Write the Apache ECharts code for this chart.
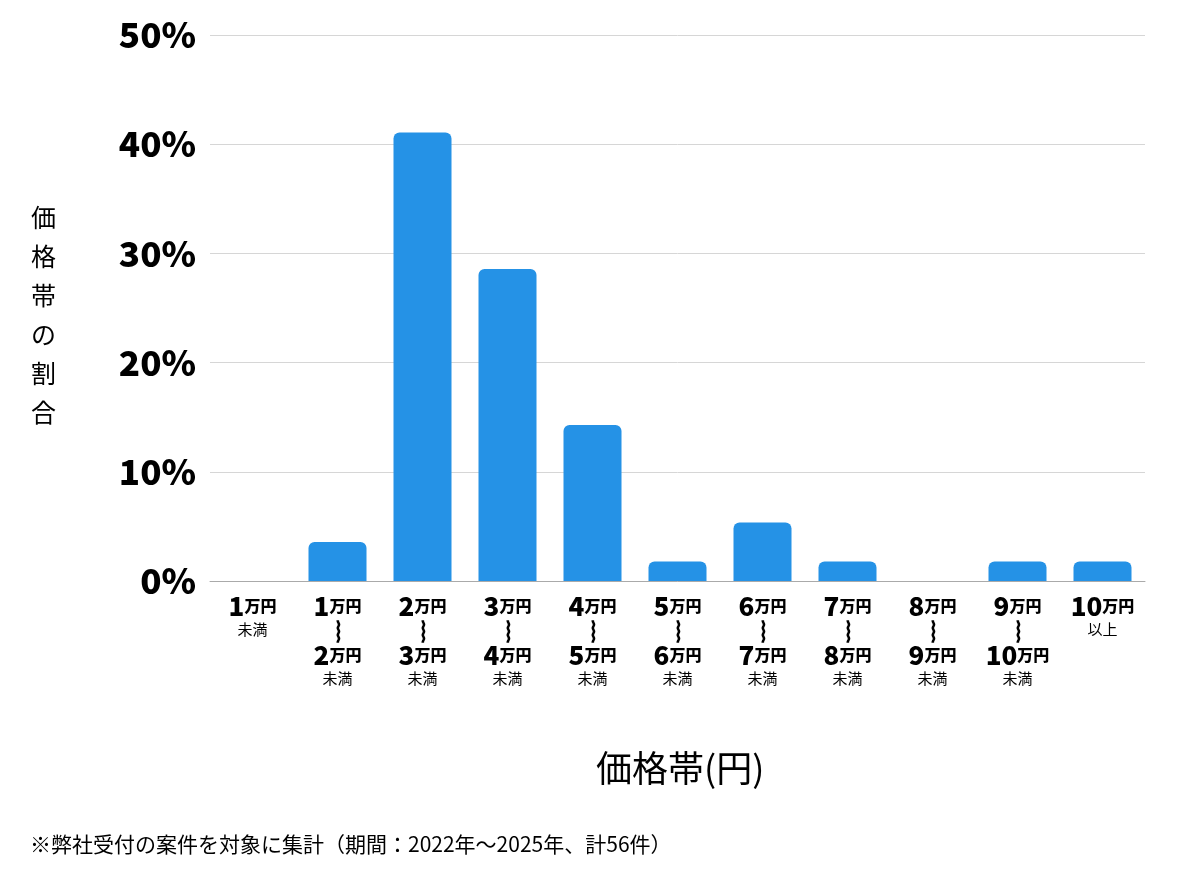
<!DOCTYPE html>
<html>
<head>
<meta charset="utf-8">
<script src="https://cdn.jsdelivr.net/npm/echarts@6/dist/echarts.min.js"></script>
<style>
html,body{margin:0;padding:0;background:#fff;}
#main{width:1200px;height:874px;}
</style>
</head>
<body>
<div id="main"></div>
<script>
// 価格帯（下限・上限）
var lowerLabels = ['1', '1', '2', '3', '4', '5', '6', '7', '8', '9', '10'];
var upperLabels = ['', '2', '3', '4', '5', '6', '7', '8', '9', '10', ''];
var categories = ['1万円未満', '1万円〜2万円未満', '2万円〜3万円未満', '3万円〜4万円未満', '4万円〜5万円未満',
    '5万円〜6万円未満', '6万円〜7万円未満', '7万円〜8万円未満', '8万円〜9万円未満', '9万円〜10万円未満', '10万円以上'];
// 割合(%)  計56件
var shares = [0, 3.57, 41.07, 28.57, 14.29, 1.79, 5.36, 1.79, 0, 1.79, 1.79];
var yTicks = [0, 10, 20, 30, 40, 50];

window.onload = function(){
    var myChart = echarts.init(document.getElementById('main'));
    var font = '"Noto Sans CJK JP", "Noto Sans", sans-serif';

    var option = {
        backgroundColor: '#fff',
        animation: false,
        textStyle: { fontFamily: font },
        grid: { left: 210, right: 55, top: 35, bottom: 293 },
        xAxis: {
            type: 'category',
            data: categories,
            axisTick: { show: false },
            axisLine: { lineStyle: { color: '#aaaaaa', width: 1 } },
            axisLabel: {
                interval: 0,
                margin: 12,
                formatter: function(v, i){
                    if (i === 0) {
                        return '{n|' + lowerLabels[i] + '}{u|万円}\n{s|未満}';
                    }
                    if (i === categories.length - 1) {
                        return '{n|' + lowerLabels[i] + '}{u|万円}\n{s|以上}';
                    }
                    return '{n|' + lowerLabels[i] + '}{u|万円}\n{w|︴}\n{n|' + upperLabels[i] + '}{u|万円}\n{s|未満}';
                },
                rich: {
                    n: { fontSize: 26, fontWeight: 900, color: '#000', fontFamily: font, height: 27, lineHeight: 27, verticalAlign: 'bottom' },
                    u: { fontSize: 16, fontWeight: 900, color: '#000', fontFamily: font, height: 27, lineHeight: 27, verticalAlign: 'bottom', padding: [0, 0, 1, 0] },
                    w: { fontSize: 21, color: '#000', fontFamily: font, height: 22, lineHeight: 22,
                         textBorderColor: '#000', textBorderWidth: 1.4, padding: [0, 0, 0, 19] },
                    s: { fontSize: 15, color: '#000', fontFamily: font, height: 18, lineHeight: 18 }
                }
            }
        },
        yAxis: {
            type: 'value',
            min: yTicks[0],
            max: yTicks[yTicks.length - 1],
            interval: 10,
            axisLine: { show: false },
            axisTick: { show: false },
            splitLine: { lineStyle: { color: '#d6d6d6', width: 1 } },
            axisLabel: {
                margin: 14,
                fontSize: 35,
                fontWeight: 900,
                color: '#000',
                fontFamily: font,
                formatter: '{value}%'
            }
        },
        series: [
            {
                type: 'bar',
                data: shares,
                barWidth: 58,
                itemStyle: {
                    color: '#2592e6',
                    borderRadius: [6, 6, 0, 0]
                }
            }
        ],
        graphic: [
            {
                type: 'text',
                left: 31,
                top: 198,
                style: {
                    text: '価\n格\n帯\nの\n割\n合',
                    font: '25px ' + font,
                    lineHeight: 39,
                    fill: '#000'
                }
            },
            {
                type: 'text',
                left: 596,
                top: 750,
                style: {
                    text: '価格帯(円)',
                    font: '36px ' + font,
                    fill: '#000'
                }
            },
            {
                type: 'text',
                left: 30,
                top: 834,
                style: {
                    text: '※弊社受付の案件を対象に集計（期間：2022年〜2025年、計56件）',
                    font: '21px ' + font,
                    fill: '#000'
                }
            }
        ]
    };
    myChart.setOption(option);
};
</script>
</body>
</html>
